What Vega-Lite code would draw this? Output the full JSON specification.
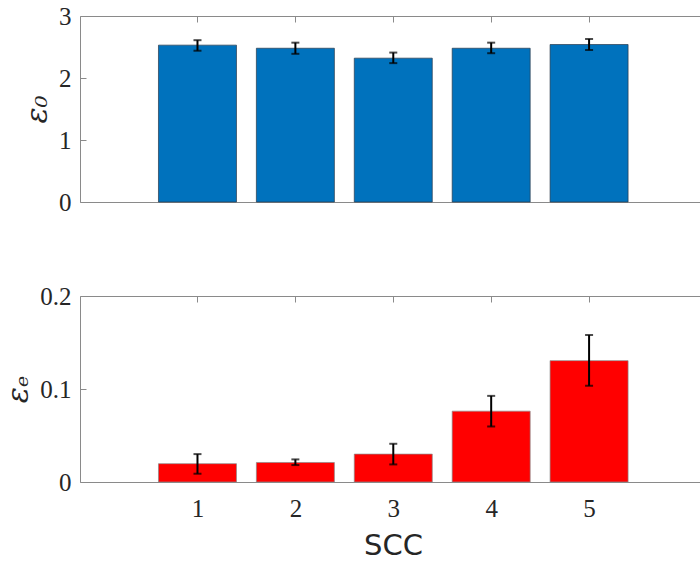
{
  "$schema": "https://vega.github.io/schema/vega-lite/v6.json",
  "padding": {"left": 3, "top": 3, "right": 0, "bottom": 0},
  "spacing": 67,
  "background": "white",
  "config": {
    "view": {"stroke": "#8a8a8a", "strokeWidth": 1},
    "axis": {
      "grid": false,
      "domain": false,
      "tickColor": "#8a8a8a",
      "tickSize": -6,
      "labelFont": "Liberation Serif",
      "labelFontSize": 25,
      "labelColor": "#262626",
      "titleColor": "#262626"
    }
  },
  "datasets": {
    "top": [
      {"scc": 1, "value": 2.53, "lo": 2.44, "hi": 2.61},
      {"scc": 2, "value": 2.48, "lo": 2.39, "hi": 2.57},
      {"scc": 3, "value": 2.32, "lo": 2.24, "hi": 2.41},
      {"scc": 4, "value": 2.48, "lo": 2.40, "hi": 2.57},
      {"scc": 5, "value": 2.54, "lo": 2.45, "hi": 2.63}
    ],
    "bottom": [
      {"scc": 1, "value": 0.0197, "lo": 0.0089, "hi": 0.0300},
      {"scc": 2, "value": 0.0210, "lo": 0.0182, "hi": 0.0243},
      {"scc": 3, "value": 0.0300, "lo": 0.0189, "hi": 0.0411},
      {"scc": 4, "value": 0.0762, "lo": 0.0597, "hi": 0.0926},
      {"scc": 5, "value": 0.1305, "lo": 0.1034, "hi": 0.1580}
    ]
  },
  "vconcat": [
    {
      "width": 620,
      "height": 186,
      "data": {"name": "top"},
      "resolve": {"axis": {"x": "independent"}},
      "layer": [
        {
          "mark": {"type": "bar", "size": 78, "color": "#0072BD", "stroke": "#2a3a4a", "strokeWidth": 0.7},
          "encoding": {
            "x": {"field": "scc", "type": "quantitative", "scale": {"domain": [-0.2, 6.133], "nice": false, "zero": false, "padding": 0},
                  "axis": {"orient": "bottom", "values": [1, 2, 3, 4, 5], "labels": false, "title": null}},
            "y": {"field": "value", "type": "quantitative", "title": "ε₀", "scale": {"domain": [0, 3], "nice": false, "padding": 0},
                  "axis": {"values": [0, 1, 2, 3], "format": "~g", "labelPadding": 15,
                           "titleFont": "DejaVu Serif", "titleFontStyle": "italic", "titleFontWeight": "normal",
                           "titleFontSize": 30, "titlePadding": 6}}
          }
        },
        {
          "mark": {"type": "errorbar", "color": "black", "thickness": 2, "ticks": {"size": 8, "thickness": 2, "color": "black"}},
          "encoding": {
            "x": {"field": "scc", "type": "quantitative",
                  "axis": {"orient": "top", "values": [1, 2, 3, 4, 5], "labels": false, "title": null}},
            "y": {"field": "lo", "type": "quantitative", "title": "ε₀"},
            "y2": {"field": "hi"}
          }
        }
      ]
    },
    {
      "width": 620,
      "height": 186,
      "data": {"name": "bottom"},
      "resolve": {"axis": {"x": "independent"}},
      "layer": [
        {
          "mark": {"type": "bar", "size": 78, "color": "#FF0000", "stroke": "#8a8a8a", "strokeWidth": 0.7},
          "encoding": {
            "x": {"field": "scc", "type": "quantitative", "scale": {"domain": [-0.2, 6.133], "nice": false, "zero": false, "padding": 0},
                  "axis": {"orient": "bottom", "values": [1, 2, 3, 4, 5], "labelPadding": 20, "title": "SCC",
                           "titleFont": "DejaVu Sans", "titleFontSize": 29, "titleFontWeight": "normal",
                           "titleX": 313, "titleY": 72, "titleBaseline": "alphabetic", "titleAlign": "center"}},
            "y": {"field": "value", "type": "quantitative", "title": "εₑ", "scale": {"domain": [0, 0.2], "nice": false, "padding": 0},
                  "axis": {"values": [0, 0.1, 0.2], "format": "~g", "labelPadding": 15,
                           "titleFont": "DejaVu Serif", "titleFontStyle": "italic", "titleFontWeight": "normal",
                           "titleFontSize": 30, "titlePadding": 6}}
          }
        },
        {
          "mark": {"type": "errorbar", "color": "black", "thickness": 2, "ticks": {"size": 8, "thickness": 2, "color": "black"}},
          "encoding": {
            "x": {"field": "scc", "type": "quantitative",
                  "axis": {"orient": "top", "values": [1, 2, 3, 4, 5], "labels": false, "title": null}},
            "y": {"field": "lo", "type": "quantitative", "title": "εₑ"},
            "y2": {"field": "hi"}
          }
        }
      ]
    }
  ]
}
